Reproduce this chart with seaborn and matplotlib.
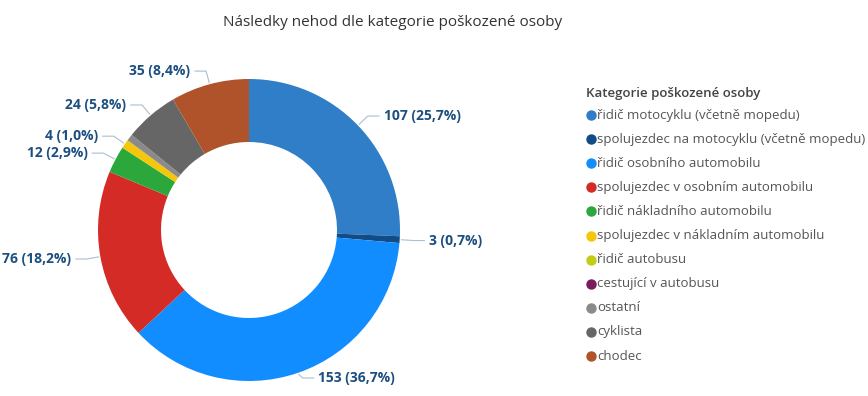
import numpy as np
import matplotlib
matplotlib.use('Agg')
import matplotlib.pyplot as plt
import seaborn as sns

# data
categories = [
    'řidič motocyklu (včetně mopedu)',
    'spolujezdec na motocyklu (včetně mopedu)',
    'řidič osobního automobilu',
    'spolujezdec v osobním automobilu',
    'řidič nákladního automobilu',
    'spolujezdec v nákladním automobilu',
    'řidič autobusu',
    'cestující v autobusu',
    'ostatní',
    'cyklista',
    'chodec',
]
counts = [107, 3, 153, 76, 12, 4, 0, 0, 3, 24, 35]
show_label = [True, True, True, True, True, True, False, False, False, True, True]
colors = ['#2F7EC7', '#114C87', '#128DFF', '#D52B26', '#2CA73B', '#F5C70A',
          '#C3CD16', '#7A1B5F', '#8A8A8A', '#666666', '#B1532A']

sns.set_theme(style='white')
plt.rcParams['font.family'] = ['Open Sans', 'DejaVu Sans']

W, H = 868, 396
fig = plt.figure(figsize=(W / 100, H / 100), dpi=100)
fig.patch.set_facecolor('white')

# pie axes: centre at (249, 230) px, radius 151 px
R = 151.0
cx, cy = 249, H - 230
ax = fig.add_axes([0, 0, 2 * cx / W, 2 * cy / H])

wedges, _ = ax.pie(counts, colors=colors, startangle=90, counterclock=False,
                   radius=1.0, wedgeprops=dict(width=1 - 88 / 151, edgecolor='none'))
ax.set_xlim(-cx / R, cx / R)
ax.set_ylim(-cy / R, cy / R)
ax.set_aspect('auto')
ax.axis('off')

total = sum(counts)
ymin = -(cy - 18) / R  # keep labels inside the canvas
for i, (w, c) in enumerate(zip(wedges, counts)):
    if not show_label[i]:
        continue
    mid = (w.theta1 + w.theta2) / 2
    ang = np.deg2rad(mid)
    x0, y0 = np.cos(ang) * 1.01, np.sin(ang) * 1.01
    x1, y1 = np.cos(ang) * 1.09, max(np.sin(ang) * 1.09, ymin)
    side = 1 if x1 >= 0 else -1
    x2 = x1 + side * 0.075
    ax.plot([x0, x1, x2], [y0, y1, y1], color='#A9BFD3', lw=0.8)
    pct = f'{c / total * 100:.1f}'.replace('.', ',')
    ax.text(x2 + side * 0.03, y1, f'{c} ({pct}%)', ha='left' if side > 0 else 'right',
            va='center', fontsize=10, fontweight='bold', color='#1C4F80')

fig.text(393 / W, 1 - 22 / H, 'Následky nehod dle kategorie poškozené osoby',
         ha='center', va='center', fontsize=11, color='#333333')

# legend
fig.text(586 / W, 1 - 93 / H, 'Kategorie poškozené osoby', ha='left', va='center',
         fontsize=9.5, fontweight='semibold', color='#444444')
for k, (name, col) in enumerate(zip(categories, colors)):
    y = 1 - (115 + k * 24.1) / H
    fig.lines.append(plt.Line2D([591 / W], [y], marker='o', markersize=6.5,
                                color=col, transform=fig.transFigure))
    fig.text(597 / W, y, name, ha='left', va='center', fontsize=9.5, color='#555555')

fig.savefig('out.png', dpi=100, facecolor='white')
